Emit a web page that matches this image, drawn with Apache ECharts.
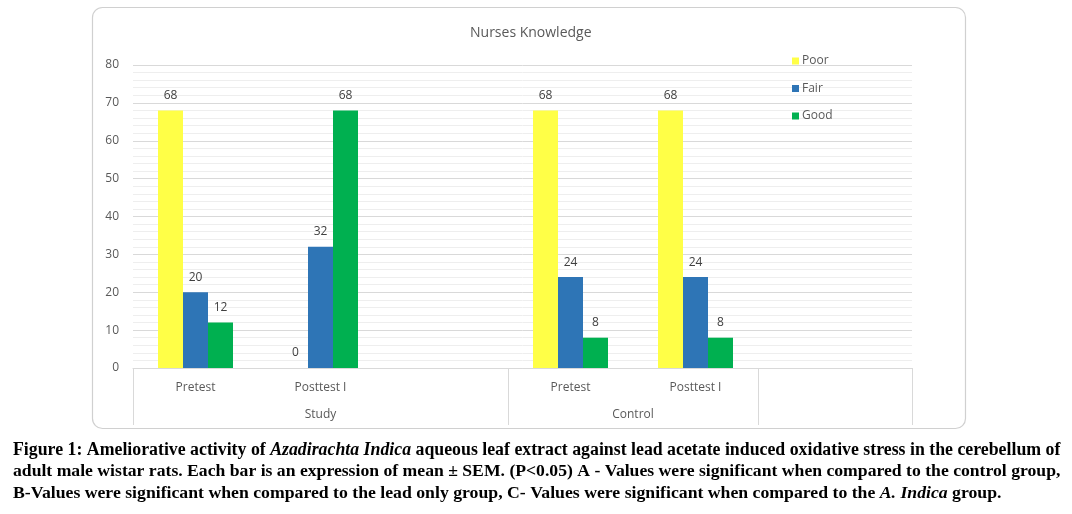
<!DOCTYPE html>
<html><head><meta charset="utf-8">
<script src="https://cdn.jsdelivr.net/npm/echarts@6/dist/echarts.min.js"></script>
<style>html,body{margin:0;padding:0;background:#fff}#c{width:1072px;height:514px}</style>
</head><body><div id="c"></div>
<script>
// ---- data ----
const categories = ['Pretest', 'Posttest I', '', 'Pretest', 'Posttest I', ''];
const groups = ['Study', 'Control'];
const groupSpans = [3, 2];
const seriesNames = ['Poor', 'Fair', 'Good'];
const poor = [68, 0, null, 68, 68, null];
const fair = [20, 32, null, 24, 24, null];
const good = [12, 68, null, 8, 8, null];
const yMin = 0, yMax = 80, yStep = 10;
const chartTitle = 'Nurses Knowledge';
const captionLines = [
  [['n', 'Figure 1: Ameliorative activity of '], ['i', 'Azadirachta Indica'], ['n', ' aqueous leaf extract against lead acetate induced oxidative stress in the cerebellum of']],
  [['n', 'adult male wistar rats. Each bar is an expression of mean \u00b1 SEM. (P<0.05) A - Values were significant when compared to the control group,']],
  [['n', 'B-Values were significant when compared to the lead only group, C- Values were significant when compared to the '], ['i', 'A. Indica'], ['n', ' group.']]
];

// ---- layout ----
const plotLeft = 133, barAreaRight = 883, frameRight = 912, plotTop = 65, plotBottom = 368;
const W = 1072, H = 514;
const colors = ['#FFFF47', '#2E75B6', '#00B050'];
const gridCol = '#d9d9d9', minorCol = '#eeeeee', txtCol = '#595959';
const extent = categories.length * (frameRight - plotLeft) / (barAreaRight - plotLeft);

// group boundaries & centers in category units
const bounds = [0]; const centers = [];
groupSpans.forEach((s, i) => { centers.push(bounds[i] + s / 2); bounds.push(bounds[i] + s); });
const tickVals = bounds.concat([extent]);

// caption font fit
const capFont = 'Liberation Serif';
const ctx = document.createElement('canvas').getContext('2d');
function lineWidth(parts, size) {
  let w = 0;
  parts.forEach(p => { ctx.font = (p[0] === 'i' ? 'italic ' : '') + 'bold ' + size + 'px "' + capFont + '"'; w += ctx.measureText(p[1]).width; });
  return w;
}
const targetW = 1048;
const s1 = 20 * targetW / lineWidth(captionLines[0], 20);
const s2 = 20 * targetW / lineWidth(captionLines[1], 20);
const capSizes = [s1, s2, (s1 + s2) / 2];
const capY = [447, 468, 490];

const chart = echarts.init(document.getElementById('c'), null, {renderer: 'canvas'});

const captionTitles = captionLines.map((parts, li) => {
  const size = capSizes[li];
  return {
    text: parts.map(p => '{' + p[0] + '|' + p[1] + '}').join(''),
    left: 8, top: capY[li] - size * 0.62,
    textStyle: {
      rich: {
        n: {fontFamily: capFont, fontWeight: 'bold', fontSize: size, color: '#000'},
        i: {fontFamily: capFont, fontWeight: 'bold', fontStyle: 'italic', fontSize: size, color: '#000'}
      }
    }
  };
});

const option = {
  animation: false,
  backgroundColor: '#fff',
  title: [{
    text: chartTitle, left: 465, top: 21,
    textStyle: {fontFamily: 'Open Sans', fontSize: 14, fontWeight: 'normal', color: txtCol}
  }].concat(captionTitles),
  graphic: [{
    type: 'rect', shape: {x: 92.5, y: 7.5, width: 873, height: 421, r: 10},
    style: {fill: 'none', stroke: '#d0d0d0', lineWidth: 1.2}, z: -10
  }],
  legend: {
    orient: 'vertical', left: 787, top: 50, itemWidth: 7, itemHeight: 7, itemGap: 15.5,
    icon: 'rect', data: seriesNames,
    textStyle: {fontFamily: 'Open Sans', fontSize: 12, color: txtCol, padding: [0, 0, 0, -2]}
  },
  grid: [
    {left: plotLeft, right: W - frameRight, top: plotTop, bottom: H - plotBottom},
    {left: plotLeft, right: W - barAreaRight, top: plotTop, bottom: H - plotBottom}
  ],
  xAxis: [
    {
      gridIndex: 0, type: 'value', min: 0, max: extent, position: 'bottom',
      axisLine: {show: true, lineStyle: {color: gridCol}},
      axisTick: {show: true, customValues: tickVals, length: 57, lineStyle: {color: gridCol}},
      axisLabel: {
        customValues: centers, margin: 41, color: txtCol, fontFamily: 'Open Sans', fontSize: 12,
        formatter: v => { const i = centers.findIndex(c => Math.abs(c - v) < 1e-6); return i >= 0 ? groups[i] : ''; }
      },
      splitLine: {show: false}
    },
    {
      gridIndex: 1, type: 'category', data: categories,
      axisLine: {show: false}, axisTick: {show: false},
      axisLabel: {margin: 14, color: txtCol, fontFamily: 'Open Sans', fontSize: 12, interval: 0}
    }
  ],
  yAxis: [
    {
      gridIndex: 0, type: 'value', min: yMin, max: yMax, interval: yStep,
      axisLine: {show: false}, axisTick: {show: false},
      axisLabel: {margin: 14, color: txtCol, fontFamily: 'Open Sans', fontSize: 12},
      splitLine: {show: true, lineStyle: {color: gridCol}},
      minorTick: {show: false, splitNumber: 5},
      minorSplitLine: {show: true, lineStyle: {color: minorCol}}
    },
    {
      gridIndex: 1, type: 'value', min: yMin, max: yMax, interval: yStep, show: false,
      splitLine: {show: false}
    }
  ],
  series: [poor, fair, good].map((d, i) => ({
    name: seriesNames[i], type: 'bar', xAxisIndex: 1, yAxisIndex: 1,
    data: d, barWidth: 25, barGap: '0%',
    itemStyle: {color: colors[i]},
    label: {show: true, position: 'top', distance: 9, color: '#404040', fontFamily: 'Open Sans', fontSize: 12}
  }))
};
chart.setOption(option);
</script></body></html>
